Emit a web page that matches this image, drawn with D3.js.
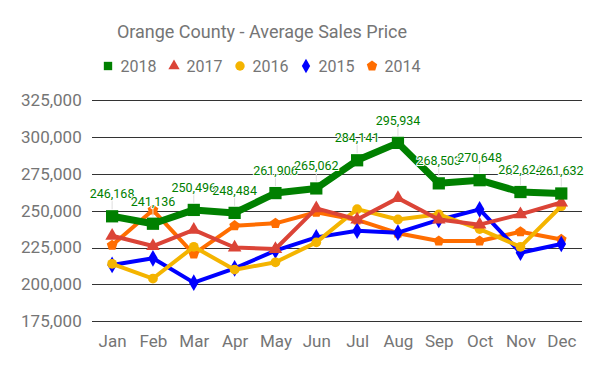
<!DOCTYPE html>
<html><head><meta charset="utf-8">
<script src="https://cdn.jsdelivr.net/npm/d3@7"></script>
<style>body{margin:0;background:#fff;font-family:Roboto,sans-serif;}</style>
</head><body><svg id="c" width="600" height="371"></svg>
<script>
const months = ["Jan","Feb","Mar","Apr","May","Jun","Jul","Aug","Sep","Oct","Nov","Dec"];
const yTicks = [175000,200000,225000,250000,275000,300000,325000];
const s2018 = [246168,241136,250496,248484,261906,265062,284141,295934,268503,270648,262624,261632];
const s2017 = [233000,226000,237000,225000,224000,251500,244000,258500,244000,240500,247500,255500];
const s2016 = [214000,204000,225500,210000,215000,228500,251000,244000,247500,237500,225500,253000];
const s2015 = [213200,217700,201200,210900,222900,231900,236400,235100,243700,250900,221500,227400];
const s2014 = [226500,250400,220600,239800,241400,248900,243700,234700,229400,229400,235700,230500];
const seriesNames = ["2018","2017","2016","2015","2014"];
const seriesColors = ["#008000","#db4437","#f4b400","#0000ff","#ff6d00"];
const seriesShapes = ["square","triangle","circle","diamond","pentagon"];
const seriesData = [s2018,s2017,s2016,s2015,s2014];

const svg = d3.select("#c");
const x = d3.scalePoint().domain(months).range([91.7,581.7]).padding(0.5);
const y = d3.scaleLinear().domain([175000,325000]).range([321.3,100]);
const grey = "#757575";

svg.append("text").attr("x",262).attr("y",38).attr("text-anchor","middle")
  .attr("fill",grey).attr("font-size",18).text("Orange County - Average Sales Price");

// grid
const yAxis = d3.axisLeft(y).tickValues(yTicks).tickSize(-490).tickFormat(d3.format(","));
const gy = svg.append("g").attr("transform","translate(91.7,0)").call(yAxis);
gy.select(".domain").remove();
gy.selectAll(".tick line").attr("stroke","#333").attr("stroke-width",1).attr("shape-rendering","crispEdges");
gy.selectAll(".tick text").attr("x",-10).attr("fill",grey).attr("font-size",17).attr("font-family","Roboto");

const xAxis = d3.axisBottom(x).tickSize(0);
const gx = svg.append("g").attr("transform","translate(0,321.3)").call(xAxis);
gx.select(".domain").remove();
gx.selectAll(".tick text").attr("dy",0).attr("y",26).attr("fill",grey).attr("font-size",17).attr("font-family","Roboto");

function shape(name,size){
  const m = {square:d3.symbolSquare,triangle:d3.symbolTriangle,circle:d3.symbolCircle,diamond:d3.symbolDiamond};
  if(name==="pentagon"){
    const r=Math.sqrt(size/2.38);
    const pts=d3.range(5).map(i=>{const a=-Math.PI/2+i*2*Math.PI/5;return [r*Math.cos(a),r*Math.sin(a)];});
    return "M"+pts.map(p=>p.join(",")).join("L")+"Z";
  }
  return d3.symbol(m[name],size)();
}

const line = d3.line().x((d,i)=>x(months[i])).y(d=>y(d));
// draw in reverse order so 2018 on top
for(let k=seriesData.length-1;k>=0;k--){
  const g = svg.append("g");
  const thick = k===0;
  g.append("path").datum(seriesData[k]).attr("d",line).attr("fill","none")
    .attr("stroke",seriesColors[k]).attr("stroke-width",thick?7:4).attr("stroke-linejoin","round");
  g.selectAll("path.m").data(seriesData[k]).join("path").attr("class","m")
    .attr("transform",(d,i)=>`translate(${x(months[i])},${y(d)})`)
    .attr("d",shape(seriesShapes[k],thick?150:seriesShapes[k]==="triangle"?80:seriesShapes[k]==="diamond"?80:75))
    .attr("fill",seriesColors[k]);
}
// data labels for 2018
const lg = svg.append("g");
lg.selectAll("line").data(s2018).join("line")
  .attr("x1",(d,i)=>x(months[i])).attr("x2",(d,i)=>x(months[i]))
  .attr("y1",d=>y(d)-7).attr("y2",d=>y(d)-16).attr("stroke","#ddd").attr("stroke-width",1);
lg.selectAll("text").data(s2018).join("text")
  .attr("x",(d,i)=>x(months[i])).attr("y",d=>y(d)-18)
  .attr("text-anchor","middle").attr("font-size",12.5).attr("fill","#008000")
  .attr("stroke","#fff").attr("stroke-width",2).attr("paint-order","stroke")
  .text(d=>d3.format(",")(d));

// legend
const lgd = svg.append("g");
seriesNames.forEach((n,k)=>{
  const lx = 108 + k*66;
  lgd.append("path").attr("transform",`translate(${lx},66)`)
    .attr("d",shape(seriesShapes[k],seriesShapes[k]==="triangle"?55:seriesShapes[k]==="diamond"?60:70)).attr("fill",seriesColors[k]);
  lgd.append("text").attr("x",lx+12.5).attr("y",72).attr("fill",grey).attr("font-size",16).text(n);
});
</script></body></html>
